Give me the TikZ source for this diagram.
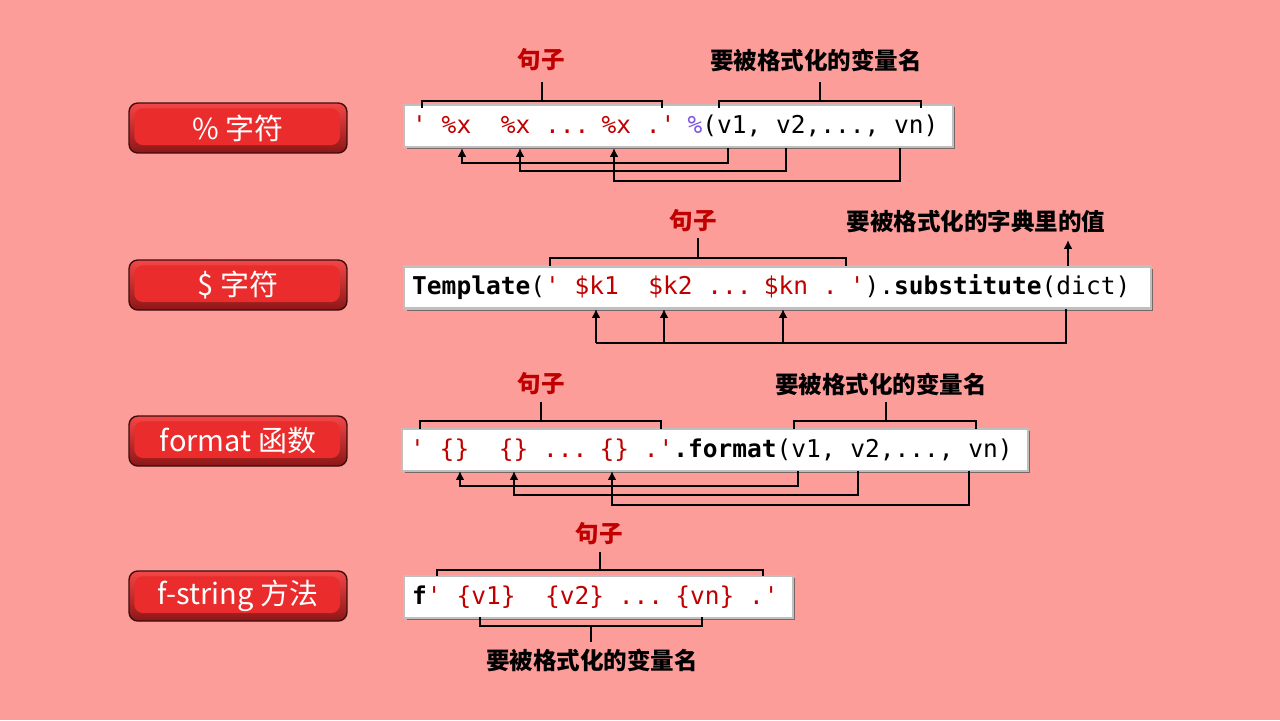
\documentclass[tikz,border=0pt]{standalone}
\usepackage{fontspec}
\setmainfont{Noto Sans CJK SC}
\setmonofont{DejaVu Sans Mono}
\usetikzlibrary{calc,arrows.meta,shadows}
\definecolor{bgPink}{RGB}{252,157,154}
\definecolor{btnRed}{RGB}{234,44,44}
\definecolor{btnTop}{RGB}{245,70,70}
\definecolor{btnBottom}{RGB}{140,22,22}
\definecolor{btnEdge}{RGB}{60,12,12}
\definecolor{strRed}{RGB}{192,0,0}
\definecolor{opPurple}{RGB}{125,85,225}
\newcommand{\Str}[1]{\textcolor{strRed}{#1}}
\newcommand{\Op}[1]{\textcolor{opPurple}{#1}}

\begin{document}
\begin{tikzpicture}[x=0.02cm,y=-0.02cm,
  btn/.style={rounded corners=5pt,draw=btnEdge,line width=0.8pt,top color=btnTop,bottom color=btnBottom,
    minimum width=4.36cm,minimum height=1cm,text=white,font=\fontsize{16.5}{19}\selectfont,
    path picture={\fill[btnRed] ([shift={(3pt,-3pt)}]path picture bounding box.north west) rectangle ([shift={(-4pt,4.5pt)}]path picture bounding box.south east);}},
  codebox/.style={anchor=west,draw=gray!50,line width=1.4pt,fill=white,inner xsep=0.16cm,minimum height=0.84cm,
    align=left,font=\ttfamily\fontsize{13.95}{16}\selectfont,
    execute at begin node={\spaceskip=0.602em\relax},
    drop shadow={shadow xshift=1.3pt,shadow yshift=-1.3pt,fill=gray!70!black,opacity=0.8}},
  lbl/.style={font=\fontsize{13.4}{16}\selectfont\bfseries,text=black},
  lblred/.style={lbl,text=strRed},
  brk/.style={line width=1.4pt,black},
  arr/.style={line width=1.3pt,black,-{Latex[length=5pt,width=5pt]}}]
\fill[bgPink] (0,0) rectangle (1280,720);
\useasboundingbox (0,0) rectangle (1280,720);

% left buttons
\node[btn] (pct) at (238,128) {\% 字符};
\node[btn] (dol) at (238,285) {\$ 字符};
\node[btn] (fmt) at (238,441) {format 函数};
\node[btn] (fstr) at (238,596) {f-string 方法};

% code lines
\node[codebox,text width=10.66cm] (code1) at (403,126) {\Str{' \%x\ \ \%x ... \%x .'} \Op{\%}(v1, v2,..., vn)};
\node[codebox,text width=14.62cm] (code2) at (403,287.5) {\textbf{Template}(\Str{' \$k1\ \ \$k2 ... \$kn . '}).\textbf{substitute}(dict)};
\node[codebox,text width=12.2cm] (code3) at (401,450) {\Str{' \{\}\ \ \{\} ... \{\} .'}\textbf{.format}(v1, v2,..., vn)};
\node[codebox,text width=7.46cm] (code4) at (403,597) {\textbf{f}\Str{' \{v1\}\ \ \{v2\} ... \{vn\} .'}};

% % row
\node[lblred] (sent1) at (541,60) {句子};
\node[lbl] (var1) at (816,60) {要被格式化的变量名};
\draw[brk] (422,108) -- (422,101) -- (662,101) -- (662,108);
\draw[brk] (542,101) -- (542,82);
\draw[brk] (719,108) -- (719,101) -- (921,101) -- (921,108);
\draw[brk] (820,101) -- (820,82);
\draw[arr] (728,148) -- (728,163) -| (462,148);
\draw[arr] (786,148) -- (786,171) -| (520,148);
\draw[arr] (900,148) -- (900,181) -| (614,148);

% $ row
\node[lblred] (sent2) at (693,221) {句子};
\node[lbl] (dict2) at (976,221) {要被格式化的字典里的值};
\draw[brk] (550,266) -- (550,258) -- (846,258) -- (846,266);
\draw[brk] (698,258) -- (698,238);
\draw[arr] (1068,266) -- (1068,240);
\draw[brk] (1066,309) -- (1066,343) -- (596,343);
\draw[arr] (596,343) -- (596,309);
\draw[arr] (664,343) -- (664,309);
\draw[arr] (783,343) -- (783,309);

% format row
\node[lblred] (sent3) at (541,384) {句子};
\node[lbl] (var3) at (881,384) {要被格式化的变量名};
\draw[brk] (420,429) -- (420,421) -- (661,421) -- (661,429);
\draw[brk] (541,421) -- (541,402);
\draw[brk] (794,429) -- (794,421) -- (976,421) -- (976,429);
\draw[brk] (886,421) -- (886,402);
\draw[arr] (798,471) -- (798,486) -| (460,471);
\draw[arr] (858,471) -- (858,495) -| (514,471);
\draw[arr] (969,471) -- (969,505) -| (612,471);

% f-string row
\node[lblred] (sent4) at (599,534) {句子};
\node[lbl] (var4) at (592,660) {要被格式化的变量名};
\draw[brk] (437,576) -- (437,570) -- (763,570) -- (763,576);
\draw[brk] (600,570) -- (600,552);
\draw[brk] (480,617) -- (480,626) -- (702,626) -- (702,617);
\draw[brk] (591,626) -- (591,642);
\end{tikzpicture}
\end{document}
